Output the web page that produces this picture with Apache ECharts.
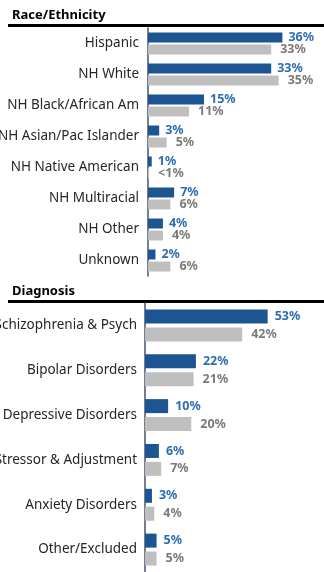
<!DOCTYPE html>
<html>
<head>
<meta charset="utf-8">
<style>
  html, body { margin: 0; padding: 0; background: #fff; }
  #chart { width: 324px; height: 572px; }
</style>
<script src="https://cdn.jsdelivr.net/npm/echarts@6/dist/echarts.min.js"></script>
</head>
<body>
<div id="chart"></div>
<script>
// Race/Ethnicity panel
const raceCategories = ['Hispanic', 'NH White', 'NH Black/African Am', 'NH Asian/Pac Islander',
  'NH Native American', 'NH Multiracial', 'NH Other', 'Unknown'];
const raceBlue = [36, 33, 15, 3, 1, 7, 4, 2];
const raceGray = [33, 35, 11, 5, 0.3, 6, 4, 6];

// Diagnosis panel
const dxCategories = ['Schizophrenia & Psych', 'Bipolar Disorders', 'Depressive Disorders',
  'Stressor & Adjustment', 'Anxiety Disorders', 'Other/Excluded'];
const dxBlue = [53, 22, 10, 6, 3, 5];
const dxGray = [42, 21, 20, 7, 4, 5];

const FONT = 'Noto Sans';
const BLUE = '#1c5592';
const GRAY = '#bfbfbf';
const BLUE_TXT = '#2e6db4';
const GRAY_TXT = '#7a7a7a';

const pct = p => (p.value < 1 ? '<1%' : p.value + '%');

function catAxis(gridIndex, data, margin) {
  return {
    type: 'category', gridIndex, data, inverse: true,
    axisLine: { show: true, lineStyle: { color: '#44546a', width: 1.5 } },
    axisTick: { show: false },
    axisLabel: { color: '#262626', fontSize: 13.5, fontFamily: FONT, margin }
  };
}
function valAxis(gridIndex, max) {
  return { type: 'value', gridIndex, min: 0, max, show: false, splitLine: { show: false } };
}
function barSeries(idx, data, color, txtColor, dist, width, gap) {
  return {
    type: 'bar', xAxisIndex: idx, yAxisIndex: idx, data,
    barWidth: width, barGap: gap,
    itemStyle: { color },
    silent: true,
    label: {
      show: true, position: 'right', distance: dist, formatter: pct,
      color: txtColor, fontWeight: 'bold', fontSize: 12.5, fontFamily: FONT
    }
  };
}

const chart = echarts.init(document.getElementById('chart'), null, { renderer: 'canvas' });
chart.setOption({
  animation: false,
  title: [
    { text: 'Race/Ethnicity', left: 7, top: 4,
      textStyle: { fontSize: 13, fontWeight: 'bold', color: '#000', fontFamily: FONT } },
    { text: 'Diagnosis', left: 7, top: 280,
      textStyle: { fontSize: 13, fontWeight: 'bold', color: '#000', fontFamily: FONT } }
  ],
  graphic: [
    { type: 'rect', shape: { x: 8, y: 24, width: 316, height: 3 }, style: { fill: '#000' } },
    { type: 'rect', shape: { x: 8, y: 300, width: 316, height: 3 }, style: { fill: '#000' } }
  ],
  grid: [
    { left: 148, top: 28, width: 168, height: 248, outerBoundsMode: 'none', containLabel: false },
    { left: 145, top: 303, width: 162, height: 269, outerBoundsMode: 'none', containLabel: false }
  ],
  yAxis: [catAxis(0, raceCategories, 9), catAxis(1, dxCategories, 8)],
  xAxis: [valAxis(0, 45), valAxis(1, 70)],
  series: [
    barSeries(0, raceBlue, BLUE, BLUE_TXT, 6, 10, '20%'),
    barSeries(0, raceGray, GRAY, GRAY_TXT, 9, 10, '20%'),
    barSeries(1, dxBlue, BLUE, BLUE_TXT, 7, 14, '28%'),
    barSeries(1, dxGray, GRAY, GRAY_TXT, 9, 14, '28%')
  ]
});
</script>
</body>
</html>
